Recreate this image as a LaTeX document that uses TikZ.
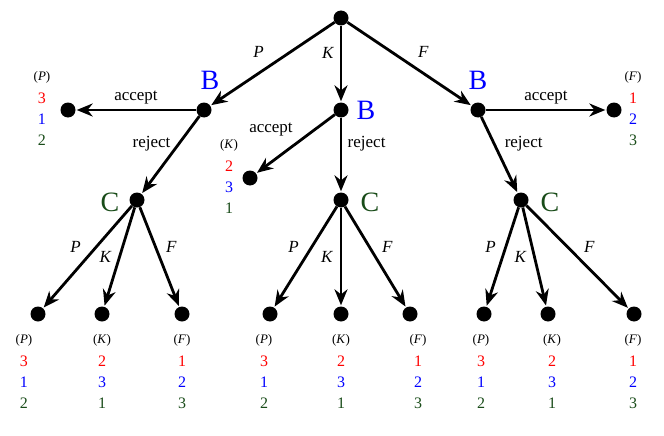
\documentclass[tikz,border=0pt]{standalone}
\usepackage{fontspec}
\setmainfont{Liberation Serif}
\usetikzlibrary{arrows.meta,positioning}
\definecolor{dg}{rgb}{0.1,0.3,0.1}
\begin{document}
\begin{tikzpicture}[x=1pt,y=-1pt,
  dot/.style={circle,fill=black,inner sep=0pt,minimum size=15pt},
  edge/.style={line width=2.8pt,-{Stealth[length=16pt,width=13pt]},shorten >=1pt},
  lab/.style={font=\fontsize{17}{17}\selectfont},
  pl/.style={font=\fontsize{28}{28}\selectfont},
  pay/.style={font=\fontsize{16}{21}\selectfont,align=center,anchor=north}]
\useasboundingbox (0,0) rectangle (664,436);
\node[dot] (r) at (341,18) {};
\node[dot] (bl) at (204,110) {};
\node[dot] (bm) at (341,110) {};
\node[dot] (br) at (478,110) {};
\node[dot] (al) at (68,110) {};
\node[dot] (ar) at (614,110) {};
\node[dot] (am) at (250,178) {};
\node[dot] (cl) at (137,200) {};
\node[dot] (cm) at (341,200) {};
\node[dot] (cr) at (521,200) {};
\foreach \n/\x in {l1/38,l2/102,l3/182,m1/270,m2/341,m3/410,r1/484,r2/548,r3/634}
  \node[dot] (\n) at (\x,314) {};
\node[pl,text=blue] (tbl) at (210,80) {B};
\node[pl,text=blue] (tbm) at (366,110) {B};
\node[pl,text=blue] (tbr) at (478,80) {B};
\node[pl,text=dg] (tcl) at (110,202) {C};
\node[pl,text=dg] (tcm) at (370,202) {C};
\node[pl,text=dg] (tcr) at (550,202) {C};
\draw[edge] (r) -- node[lab,above left=2pt and 4pt,pos=0.5]{\textit{P}} (bl);
\draw[edge] (r) -- node[lab,left=2pt,pos=0.35]{\textit{K}} (bm);
\draw[edge] (r) -- node[lab,above right=2pt and 4pt,pos=0.5]{\textit{F}} (br);
\draw[edge] (bl) -- node[lab,above=1pt]{accept} (al);
\draw[edge] (br) -- node[lab,above=1pt]{accept} (ar);
\draw[edge] (bm) -- node[lab,above left=0pt and 2pt,pos=0.45]{accept} (am);
\draw[edge] (bl) -- node[lab,left=4pt,pos=0.35]{reject} (cl);
\draw[edge] (br) -- node[lab,right=6pt,pos=0.35]{reject} (cr);
\draw[edge] (bm) -- node[lab,right=2pt,pos=0.35]{reject} (cm);
\foreach \c/\a/\b/\d in {cl/l1/l2/l3,cm/m1/m2/m3,cr/r1/r2/r3}{
  \draw[edge] (\c) -- node[lab,above left=0pt and 2pt,pos=0.5]{\textit{P}} (\a);
  \draw[edge] (\c) -- node[lab,left=3pt,pos=0.5]{\textit{K}} (\b);
  \draw[edge] (\c) -- node[lab,above right=0pt and 2pt,pos=0.5]{\textit{F}} (\d);
}
\newcommand{\payoff}[4]{{\fontsize{13}{13}\selectfont(\textit{#1})}\\[2pt]\textcolor{red}{#2}\\\textcolor{blue}{#3}\\\textcolor{dg}{#4}}
\node[pay] (pal) at (42,68) {\payoff{P}{3}{1}{2}};
\node[pay] (par) at (633,68) {\payoff{F}{1}{2}{3}};
\node[pay] (pam) at (229,136) {\payoff{K}{2}{3}{1}};
\foreach \n/\x/\t/\a/\b/\c in {pl1/24/P/3/1/2,pl2/102/K/2/3/1,pl3/182/F/1/2/3,pm1/264/P/3/1/2,pm2/341/K/2/3/1,pm3/418/F/1/2/3,pr1/481/P/3/1/2,pr2/552/K/2/3/1,pr3/633/F/1/2/3}
  \node[pay] (\n) at (\x,331) {\payoff{\t}{\a}{\b}{\c}};
\end{tikzpicture}
\end{document}
